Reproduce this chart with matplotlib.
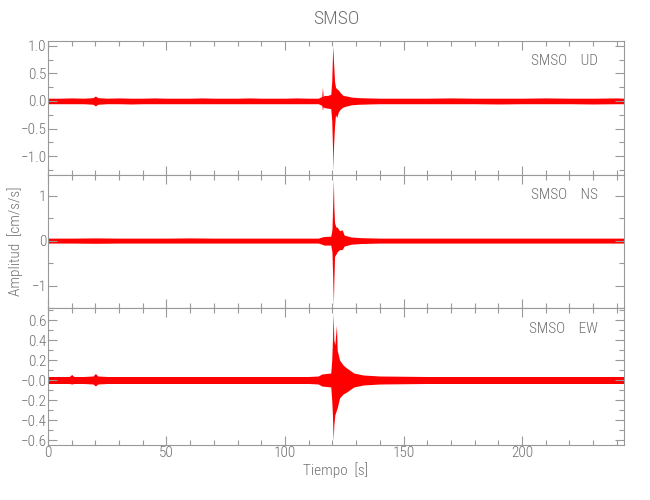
import numpy as np
import matplotlib
matplotlib.use("Agg")
import matplotlib.pyplot as plt
from matplotlib.ticker import MultipleLocator, FixedLocator, FixedFormatter

plt.rcParams['font.family'] = ['Roboto Condensed', 'DejaVu Sans']
plt.rcParams['font.weight'] = 'light'
plt.rcParams['axes.titleweight'] = 'light'
plt.rcParams['axes.labelweight'] = 'light'

# envelope of each trace (time s, upper, lower)
t_ud = [0, 5, 10, 15, 19, 20, 21, 25, 30, 35, 40, 45, 50, 55, 60, 65, 70, 75, 80, 85, 90, 95,
        100, 105, 110, 114, 115.5, 115.8, 116.1, 116.5, 118, 119.3, 119.7, 120.0, 120.2, 120.4,
        120.6, 120.9, 121.3, 121.8, 122.5, 123.3, 124.5, 126, 128, 131, 135, 140, 150, 160,
        170, 180, 190, 200, 210, 220, 230, 240, 243]
hi_ud = [.05, .05, .055, .05, .06, .09, .06, .05, .055, .05, .05, .055, .05, .05, .05, .055, .05, .05,
         .05, .055, .05, .05, .05, .055, .05, .05, .08, .25, .08, .1, .1, .12, .35, .8, 1.0, .75,
         .6, .35, .25, .22, .2, .15, .1, .09, .07, .06, .055, .05, .05, .05,
         .055, .05, .05, .05, .055, .05, .05, .055, .05]
lo_ud = [-.05, -.05, -.05, -.05, -.06, -.09, -.06, -.05, -.05, -.055, -.05, -.05, -.05, -.05, -.05, -.05, -.05, -.05,
         -.05, -.05, -.05, -.05, -.05, -.05, -.05, -.05, -.08, -.17, -.1, -.12, -.13, -.14, -.35, -.8, -1.26, -.9,
         -.7, -.45, -.25, -.3, -.2, -.15, -.11, -.09, -.07, -.06, -.055, -.05, -.05, -.05,
         -.05, -.05, -.055, -.05, -.05, -.05, -.055, -.05, -.05]

t_ns = [0, 10, 20, 30, 40, 50, 60, 70, 80, 90, 100, 110, 114, 115.5, 116.5, 119.3, 119.8, 120.1,
        120.4, 120.6, 120.9, 121.5, 122.0, 123, 124.1, 125, 128, 132, 140, 160, 180, 200, 220, 243]
hi_ns = [.055, .055, .06, .055, .055, .055, .06, .055, .055, .055, .055, .055, .055, .08, .09, .1, .25, .8,
         1.37, .75, .4, .3, .3, .22, .24, .12, .08, .065, .055, .055, .055, .055, .055, .055]
lo_ns = [-.055, -.055, -.06, -.055, -.055, -.055, -.055, -.055, -.055, -.055, -.055, -.055, -.055, -.08, -.1, -.1, -.25, -.8,
         -1.44, -.9, -.35, -.3, -.25, -.2, -.2, -.12, -.08, -.065, -.055, -.055, -.055, -.055, -.055, -.055]

t_ew = [0, 5, 9, 10, 11, 15, 19, 20, 21, 25, 30, 40, 50, 60, 70, 80, 90, 100, 110, 114, 115.5, 119.3,
        119.7, 120.0, 120.3, 120.6, 121.0, 121.7, 122.0, 123, 124.5, 126, 129, 133, 140, 160, 180,
        200, 220, 243]
hi_ew = [.035, .035, .035, .055, .035, .035, .04, .065, .04, .035, .035, .035, .035, .035, .035, .035, .035, .035, .035, .04, .06, .07,
         .2, .4, .67, .4, .35, .55, .3, .2, .15, .12, .07, .05, .04, .035, .035,
         .035, .035, .035]
lo_ew = [-.035, -.035, -.035, -.04, -.035, -.035, -.04, -.06, -.04, -.035, -.035, -.035, -.035, -.035, -.035, -.035, -.035, -.035, -.035, -.04, -.06, -.07,
         -.2, -.35, -.61, -.45, -.35, -.3, -.28, -.18, -.14, -.12, -.07, -.05, -.04, -.035, -.035,
         -.035, -.035, -.035]

comps = ['UD', 'NS', 'EW']
ylims = [(-1.34, 1.085), (-1.5, 1.46), (-0.65, 0.72)]
yticks = [[-1.0, -0.5, 0.0, 0.5, 1.0], [-1, 0, 1], [-0.6, -0.4, -0.2, 0.0, 0.2, 0.4, 0.6]]
ylabels = [['\u22121.0', '\u22120.5', '0.0', '0.5', '1.0'], ['\u22121', '0', '1'],
           ['\u22120.6', '\u22120.4', '\u22120.2', '\u22120.0', '0.2', '0.4', '0.6']]
yminor = [0.25, 0.5, 0.1]
traces = [(t_ud, hi_ud, lo_ud), (t_ns, hi_ns, lo_ns), (t_ew, hi_ew, lo_ew)]

grey = '#707070'
fig = plt.figure(figsize=(6.5, 5), dpi=100)
bounds = [(0.65, 0.918), (0.384, 0.65), (0.11, 0.384)]
for i in range(3):
    b0, b1 = bounds[i]
    ax = fig.add_axes([0.0738, b0, 0.96 - 0.0738, b1 - b0])
    t, hi, lo = traces[i]
    ax.fill_between(t, lo, hi, color='red', linewidth=0)
    ax.set_xlim(0, 243)
    ax.set_ylim(*ylims[i])
    ax.xaxis.set_major_locator(MultipleLocator(50))
    ax.xaxis.set_minor_locator(MultipleLocator(10))
    ax.yaxis.set_major_locator(FixedLocator(yticks[i]))
    ax.yaxis.set_major_formatter(FixedFormatter(ylabels[i]))
    ax.yaxis.set_minor_locator(MultipleLocator(yminor[i]))
    ax.tick_params(which='both', direction='in', top=True, right=True, color='#999999',
                   width=0.8, labelcolor=grey, labelsize=11, pad=1)
    ax.tick_params(which='major', length=6.5)
    ax.tick_params(which='minor', length=3.6)
    for s in ax.spines.values():
        s.set_color('#999999')
        s.set_linewidth(0.8)
    if i < 2:
        ax.tick_params(labelbottom=False)
    else:
        ax.set_xlabel('Tiempo  [s]', color=grey, fontsize=11, labelpad=1)
    ax.text(0.955, 0.85, 'SMSO    ' + comps[i], transform=ax.transAxes, ha='right', va='center',
            color=grey, fontsize=11)
    if i == 1:
        ax.set_ylabel('Amplitud  [cm/s/s]', color=grey, fontsize=11, labelpad=6)
    if i == 0:
        ax.set_title('SMSO', color=grey, fontsize=14, pad=12)

fig.savefig('out.png', dpi=100)
